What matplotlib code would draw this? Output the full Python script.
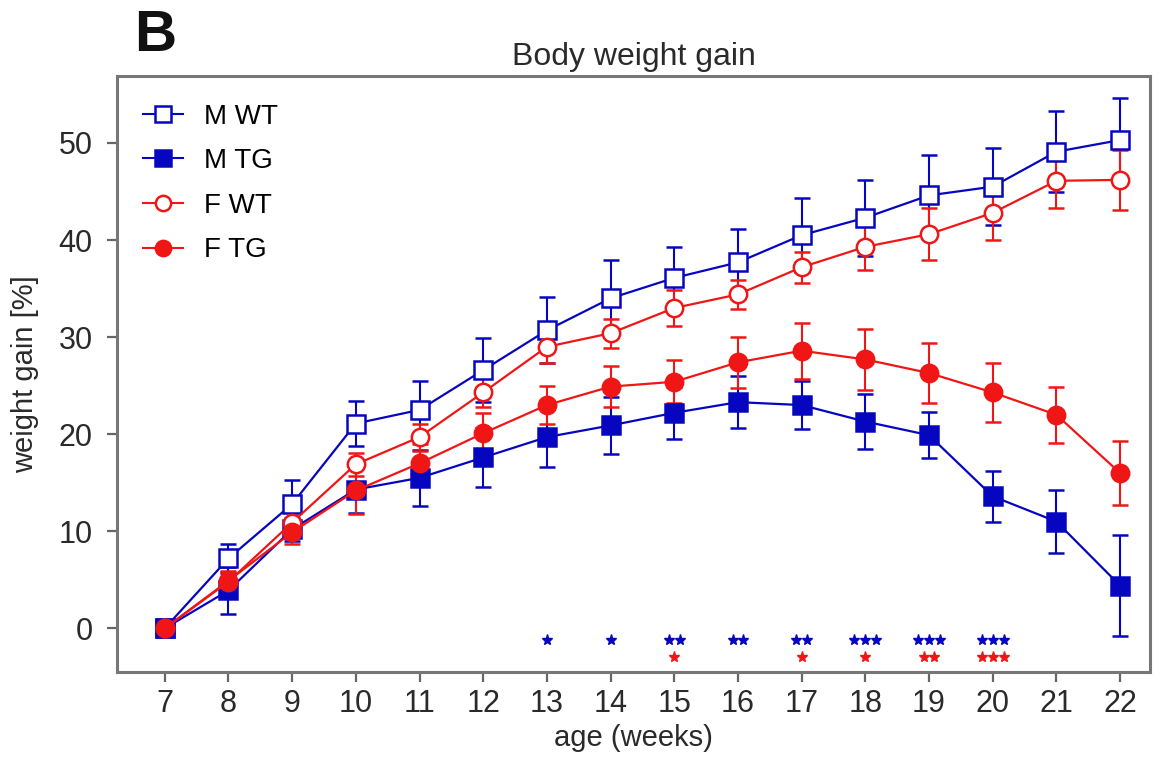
import numpy as np
import matplotlib
matplotlib.use("Agg")
from matplotlib import pyplot as plt
from matplotlib.lines import Line2D

plt.rcParams['font.family'] = ['Liberation Sans', 'DejaVu Sans']

# data
weeks = list(range(7, 23))

m_wt = [0, 7.2, 12.8, 21.1, 22.5, 26.6, 30.7, 34.0, 36.1, 37.7, 40.5, 42.3, 44.6, 45.5, 49.1, 50.3]
m_wt_err = [0, 1.5, 2.5, 2.3, 3.0, 3.3, 3.4, 3.9, 3.2, 3.4, 3.8, 3.9, 4.2, 4.0, 4.2, 4.3]

m_tg = [0, 3.9, 10.2, 14.3, 15.5, 17.6, 19.7, 20.9, 22.2, 23.3, 23.0, 21.3, 19.9, 13.6, 11.0, 4.4]
m_tg_err = [0, 2.4, 1.2, 2.4, 2.9, 3.0, 3.1, 2.9, 2.7, 2.7, 2.5, 2.8, 2.4, 2.6, 3.2, 5.2]

f_wt = [0, 4.8, 10.9, 16.9, 19.7, 24.3, 29.0, 30.4, 33.0, 34.4, 37.2, 39.3, 40.6, 42.8, 46.1, 46.2]
f_wt_err = [0, 1.0, 1.2, 1.2, 1.4, 1.5, 1.7, 1.5, 1.9, 1.5, 1.6, 2.4, 2.7, 2.8, 2.8, 3.1]

f_tg = [0, 4.9, 9.9, 14.2, 17.0, 20.1, 23.0, 24.9, 25.4, 27.4, 28.6, 27.7, 26.3, 24.3, 22.0, 16.0]
f_tg_err = [0, 1.0, 1.2, 2.4, 2.0, 2.1, 2.0, 2.1, 2.2, 2.6, 2.9, 3.1, 3.1, 3.0, 2.9, 3.3]

# significance stars (number per week)
star_weeks = [13, 14, 15, 16, 17, 18, 19, 20]
m_stars = [1, 1, 2, 2, 2, 3, 3, 3]
f_stars = [0, 0, 1, 0, 1, 1, 2, 3]

blue = '#0606c0'
red = '#f01616'
txt = '#2a2a2a'

fig = plt.figure(figsize=(11.67, 7.66), dpi=100)
ax = fig.add_axes([117 / 1167, 1 - 672 / 766, 1033 / 1167, 596 / 766])

series = [
    ("M WT", m_wt, m_wt_err, blue, 's', 'white'),
    ("M TG", m_tg, m_tg_err, blue, 's', blue),
    ("F WT", f_wt, f_wt_err, red, 'o', 'white'),
    ("F TG", f_tg, f_tg_err, red, 'o', red),
]
handles = []
for label, y, err, c, mk, fc in series:
    ax.errorbar(weeks, y, yerr=err, color=c, marker=mk, markerfacecolor=fc,
                markeredgecolor=c, markeredgewidth=1.8, markersize=12.5,
                linewidth=1.6, elinewidth=1.5, capsize=6, capthick=1.5)
    handles.append(Line2D([], [], color=c, marker=mk, markerfacecolor=fc,
                          markeredgecolor=c, markeredgewidth=1.8,
                          markersize=11, linewidth=1.5, label=label))

# stars
dx = 0.17
for w, nm, nf in zip(star_weeks, m_stars, f_stars):
    if nm:
        xs = w + (np.arange(nm) - (nm - 1) / 2) * dx
        ax.plot(xs, [-1.2] * nm, linestyle='none', marker='*', color=blue,
                markersize=8)
    if nf:
        xs = w + (np.arange(nf) - (nf - 1) / 2) * dx
        ax.plot(xs, [-3.0] * nf, linestyle='none', marker='*', color=red,
                markersize=8)

ax.set_xlim(6.25, 22.47)
ax.set_ylim(-4.5, 56.9)
ax.set_xticks(weeks)
ax.set_yticks([0, 10, 20, 30, 40, 50])
ax.tick_params(axis='both', labelsize=22, length=7.5, width=1.6, color='#666666',
               labelcolor=txt)
ax.tick_params(axis='x', pad=5)
ax.tick_params(axis='y', pad=10)
for s in ax.spines.values():
    s.set_color('#777777')
    s.set_linewidth(2.2)

ax.set_xlabel("age (weeks)", fontsize=21, color=txt, labelpad=3)
ax.set_ylabel("weight gain [%]", fontsize=21, color=txt, labelpad=14)
ax.set_title("Body weight gain", fontsize=23, color=txt, pad=8)

fig.text(134 / 1167, 1 - 9 / 766, "B", fontsize=42, fontweight='bold',
         color='#111111', va='top', ha='left')

ax.legend(handles=handles, loc='upper left', bbox_to_anchor=(0.0115, 0.977),
          frameon=False, fontsize=20, handlelength=1.45, borderpad=0,
          labelspacing=0.67, handletextpad=0.75)

fig.savefig("out.png", dpi=100)
